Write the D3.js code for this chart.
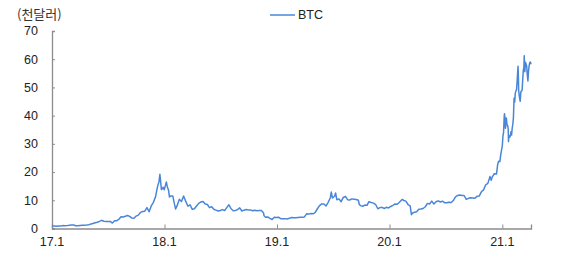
<!DOCTYPE html>
<html>
<head>
<meta charset="utf-8">
<script src="https://cdn.jsdelivr.net/npm/d3@7"></script>
<style>
  body { margin: 0; background: #fff; }
  text { font-family: "Liberation Sans", Arial, sans-serif; fill: #222; }
</style>
</head>
<body>
<div id="main"></div>
<script>
// BTC price, thousand USD
const dates = [
  "2017-01-01","2017-01-08","2017-01-15","2017-01-22","2017-01-29","2017-02-05","2017-02-12","2017-02-19","2017-02-26",
  "2017-03-05","2017-03-12","2017-03-19","2017-03-26","2017-04-02","2017-04-09","2017-04-16","2017-04-23","2017-04-30",
  "2017-05-07","2017-05-14","2017-05-21","2017-05-28","2017-06-04","2017-06-11","2017-06-18","2017-06-25","2017-07-02",
  "2017-07-09","2017-07-16","2017-07-23","2017-07-30","2017-08-06","2017-08-13","2017-08-20","2017-08-27","2017-09-03",
  "2017-09-10","2017-09-17","2017-09-24","2017-10-01","2017-10-08","2017-10-15","2017-10-22","2017-10-29","2017-11-05",
  "2017-11-12","2017-11-19","2017-11-26","2017-12-03","2017-12-10","2017-12-14","2017-12-17","2017-12-20","2017-12-22",
  "2017-12-24","2017-12-28","2017-12-31","2018-01-04","2018-01-07","2018-01-10","2018-01-14","2018-01-17","2018-01-21",
  "2018-01-28","2018-02-02","2018-02-06","2018-02-11","2018-02-18","2018-02-25","2018-03-04","2018-03-11","2018-03-18",
  "2018-03-25","2018-04-01","2018-04-08","2018-04-15","2018-04-22","2018-04-29","2018-05-06","2018-05-13","2018-05-20",
  "2018-05-27","2018-06-03","2018-06-10","2018-06-17","2018-06-24","2018-07-01","2018-07-08","2018-07-15","2018-07-22",
  "2018-07-29","2018-08-05","2018-08-12","2018-08-19","2018-08-26","2018-09-02","2018-09-09","2018-09-16","2018-09-23",
  "2018-09-30","2018-10-07","2018-10-14","2018-10-21","2018-10-28","2018-11-04","2018-11-11","2018-11-18","2018-11-20",
  "2018-11-25","2018-12-02","2018-12-09","2018-12-16","2018-12-23","2018-12-30","2019-01-06","2019-01-13","2019-01-20",
  "2019-01-27","2019-02-03","2019-02-10","2019-02-17","2019-02-24","2019-03-03","2019-03-10","2019-03-17","2019-03-24",
  "2019-03-31","2019-04-07","2019-04-14","2019-04-21","2019-04-28","2019-05-05","2019-05-12","2019-05-19","2019-05-26",
  "2019-06-02","2019-06-09","2019-06-16","2019-06-23","2019-06-26","2019-06-30","2019-07-07","2019-07-10","2019-07-14",
  "2019-07-21","2019-07-28","2019-08-04","2019-08-11","2019-08-18","2019-08-25","2019-09-01","2019-09-08","2019-09-15",
  "2019-09-22","2019-09-25","2019-09-29","2019-10-06","2019-10-13","2019-10-20","2019-10-26","2019-11-03","2019-11-10",
  "2019-11-17","2019-11-24","2019-12-01","2019-12-08","2019-12-15","2019-12-22","2019-12-29","2020-01-05","2020-01-12",
  "2020-01-19","2020-01-26","2020-02-02","2020-02-09","2020-02-13","2020-02-16","2020-02-23","2020-03-01","2020-03-08",
  "2020-03-12","2020-03-15","2020-03-22","2020-03-29","2020-04-05","2020-04-12","2020-04-19","2020-04-26","2020-05-03",
  "2020-05-10","2020-05-17","2020-05-24","2020-05-31","2020-06-07","2020-06-14","2020-06-21","2020-06-28","2020-07-05",
  "2020-07-12","2020-07-19","2020-07-26","2020-08-02","2020-08-09","2020-08-16","2020-08-23","2020-08-30","2020-09-06",
  "2020-09-13","2020-09-20","2020-09-27","2020-10-04","2020-10-11","2020-10-18","2020-10-25","2020-11-01","2020-11-08",
  "2020-11-15","2020-11-22","2020-11-26","2020-11-29","2020-12-06","2020-12-13","2020-12-17","2020-12-20","2020-12-24",
  "2020-12-27","2021-01-01","2021-01-03","2021-01-05","2021-01-07","2021-01-08","2021-01-10","2021-01-11","2021-01-13",
  "2021-01-14","2021-01-16","2021-01-18","2021-01-20","2021-01-21","2021-01-22","2021-01-24","2021-01-26","2021-01-28",
  "2021-01-29","2021-01-31","2021-02-02","2021-02-04","2021-02-06","2021-02-08","2021-02-10","2021-02-12","2021-02-14",
  "2021-02-16","2021-02-18","2021-02-20","2021-02-21","2021-02-22","2021-02-23","2021-02-25","2021-02-26","2021-02-28",
  "2021-03-02","2021-03-04","2021-03-06","2021-03-08","2021-03-10","2021-03-12","2021-03-13","2021-03-15","2021-03-17",
  "2021-03-19","2021-03-21","2021-03-23","2021-03-25","2021-03-27","2021-03-29","2021-03-31","2021-04-02","2021-04-04"
];
const btc = [
  1.00,0.91,0.82,0.92,0.92,1.02,1.00,1.05,1.15,
  1.27,1.23,0.97,0.97,1.10,1.18,1.18,1.25,1.35,
  1.56,1.75,2.05,2.20,2.52,2.90,2.55,2.50,2.50,
  2.50,1.93,2.75,2.75,3.25,4.15,4.10,4.35,4.60,
  4.30,3.70,3.65,4.40,4.75,5.70,6.00,6.15,7.40,
  5.95,8.00,9.30,11.3,15.2,16.5,19.2,16.0,13.8,
  14.0,14.6,13.7,15.3,16.5,14.8,13.6,11.2,11.5,
  11.5,8.8,6.9,8.1,10.4,9.6,11.5,9.6,7.9,
  8.4,6.8,7.0,8.0,8.9,9.4,9.6,8.7,8.5,
  7.4,7.7,6.8,6.5,6.2,6.4,6.7,6.4,7.4,
  8.4,7.0,6.3,6.4,6.7,7.3,6.2,6.5,6.7,
  6.6,6.6,6.3,6.5,6.3,6.4,6.4,5.6,4.5,
  4.0,4.1,3.6,3.2,4.0,3.9,4.0,3.5,3.5,
  3.5,3.4,3.6,3.9,3.8,3.8,3.9,4.0,4.0,
  4.1,5.2,5.1,5.3,5.2,5.7,7.0,8.1,8.7,
  8.7,8.0,9.3,10.9,12.9,10.8,11.5,12.6,10.2,
  10.5,9.5,11.0,11.4,10.2,10.1,10.5,10.4,10.3,
  10.0,8.5,8.1,7.9,8.3,8.2,9.5,9.2,9.0,
  8.5,7.0,7.4,7.5,7.1,7.5,7.3,7.8,8.2,
  8.7,8.6,9.3,10.1,10.3,9.9,9.7,8.5,8.0,
  4.9,5.4,5.8,5.9,6.8,6.9,7.1,7.7,8.9,
  8.7,9.7,8.7,9.5,9.8,9.4,9.7,9.1,9.1,
  9.3,9.2,9.9,11.2,11.7,11.9,11.7,11.7,10.3,
  10.7,10.9,10.8,10.7,11.4,11.5,13.0,13.7,15.5,
  16.0,18.4,17.1,18.2,19.4,19.3,22.8,23.8,23.7,
  26.3,29.4,32.8,34.0,39.4,40.7,38.4,35.5,37.3,
  39.2,36.8,36.6,35.5,30.8,33.0,32.3,32.5,33.5,
  34.3,33.1,35.5,36.9,39.3,46.2,44.8,47.9,48.7,
  49.2,52.1,56.0,57.5,54.2,48.9,47.0,46.3,45.1,
  48.4,48.8,48.9,52.4,56.0,57.3,61.2,55.6,58.9,
  58.3,57.5,54.5,52.3,55.9,57.7,58.8,59.0,58.2
];
const yTicks = [0, 10, 20, 30, 40, 50, 60, 70];
const xTickDates = ["2017-01-01", "2018-01-01", "2019-01-01", "2020-01-01", "2021-01-01"];
const xTickLabels = ["17.1", "18.1", "19.1", "20.1", "21.1"];
const seriesName = "BTC";
const unitLabel = "(천달러)";

const w = 571, h = 256;
const margin = {left: 52, right: 40, top: 31, bottom: 27.5};
const lineColor = "#4a86d8";
const parse = d3.timeParse("%Y-%m-%d");

const dataset = dates.map((d, i) => ({date: parse(d), value: btc[i]}));

const xScale = d3.scaleTime()
  .domain([parse("2017-01-01"), parse("2021-04-04")])
  .range([margin.left, w - margin.right]);
const yScale = d3.scaleLinear()
  .domain([0, 70])
  .range([h - margin.bottom, margin.top]);

const svg = d3.select("#main").append("svg").attr("width", w).attr("height", h);

// y axis (ticks point inward)
const yAxis = d3.axisRight(yScale).tickValues(yTicks).tickSize(3).tickFormat("");
const gy = svg.append("g")
  .attr("transform", "translate(" + margin.left + ",0)")
  .call(yAxis);
gy.select(".domain").attr("stroke", "#8c8c8c").attr("stroke-width", 1.3);
gy.selectAll(".tick line").attr("stroke", "#8c8c8c");
svg.selectAll(".ylab")
  .data(yTicks)
  .enter()
  .append("text")
  .attr("x", 38)
  .attr("y", d => yScale(d))
  .attr("dy", "0.35em")
  .attr("text-anchor", "end")
  .style("font-size", "12.5px")
  .text(d => d);

// x axis
const xAxis = d3.axisTop(xScale)
  .tickValues(xTickDates.map(parse))
  .tickSize(4)
  .tickFormat("");
const gx = svg.append("g")
  .attr("transform", "translate(0," + (h - margin.bottom) + ")")
  .call(xAxis);
gx.select(".domain").attr("stroke", "#8c8c8c").attr("stroke-width", 1.3);
gx.selectAll(".tick line").attr("stroke", "#8c8c8c");
svg.selectAll(".xlab")
  .data(xTickDates)
  .enter()
  .append("text")
  .attr("x", d => xScale(parse(d)))
  .attr("y", 246)
  .attr("text-anchor", "middle")
  .style("font-size", "12.5px")
  .text((d, i) => xTickLabels[i]);

// unit label
svg.append("text")
  .attr("x", 17)
  .attr("y", 19)
  .style("font-size", "13px")
  .style("font-family", "'Noto Sans CJK KR', sans-serif")
  .style("fill", "#333")
  .text(unitLabel);

// line
const line = d3.line()
  .x(d => xScale(d.date))
  .y(d => yScale(d.value));
svg.append("path")
  .datum(dataset)
  .attr("d", line)
  .attr("fill", "none")
  .attr("stroke", lineColor)
  .attr("stroke-width", 1.5)
  .attr("stroke-linejoin", "round");

// legend
svg.append("line")
  .attr("x1", 270).attr("x2", 295)
  .attr("y1", 15).attr("y2", 15)
  .attr("stroke", lineColor)
  .attr("stroke-width", 1.5);
svg.append("text")
  .attr("x", 298)
  .attr("y", 15)
  .attr("dy", "0.35em")
  .style("font-size", "12.5px")
  .text(seriesName);
</script>
</body>
</html>
